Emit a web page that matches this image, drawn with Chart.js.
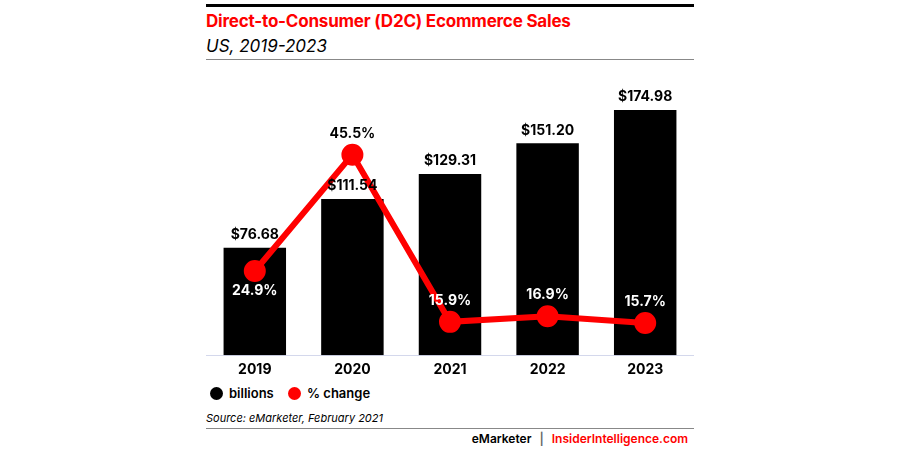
<!DOCTYPE html>
<html>
<head>
<meta charset="utf-8">
<script src="https://cdn.jsdelivr.net/npm/chart.js@4"></script>
<style>
  body { margin: 0; background: #fff; font-family: Inter, "Noto Sans", sans-serif; }
  .wrap { position: relative; width: 900px; height: 449px; }
  .topline { position: absolute; left: 206px; top: 4px; width: 488px; height: 3px; background: #000; }
  .title { position: absolute; left: 206px; top: 11px; font-size: 17px; font-weight: 700; color: #f00; letter-spacing: -0.2px; }
  .sub { position: absolute; left: 206px; top: 36px; font-size: 17px; font-style: italic; color: #000; }
  .rule1 { position: absolute; left: 206px; top: 59px; width: 488px; height: 1px; background: #888; }
  .chartbox { position: absolute; left: 206px; top: 62px; width: 488px; height: 322px; }
  .legend { position: absolute; top: 385px; font-size: 13px; font-weight: 600; display: flex; align-items: center; }
  .dot { width: 13px; height: 13px; border-radius: 50%; margin-right: 6px; }
  .source { position: absolute; left: 206px; top: 411px; font-size: 11px; font-style: italic; color: #000; }
  .rule2 { position: absolute; left: 206px; top: 428px; width: 488px; height: 1px; background: #888; }
  .footer { position: absolute; right: 212px; top: 431px; font-size: 12px; font-weight: 600; }
</style>
</head>
<body>
<div class="wrap">
  <div class="topline"></div>
  <div class="title">Direct-to-Consumer (D2C) Ecommerce Sales</div>
  <div class="sub">US, 2019-2023</div>
  <div class="rule1"></div>
  <div class="chartbox"><canvas id="chart" width="488" height="322"></canvas></div>
  <div class="legend" style="left:210px"><div class="dot" style="background:#000"></div>billions</div>
  <div class="legend" style="left:288px"><div class="dot" style="background:#f00"></div>% change</div>
  <div class="source">Source: eMarketer, February 2021</div>
  <div class="rule2"></div>
  <div class="footer"><span style="color:#000">eMarketer</span> <span style="color:#666;margin:0 5px">|</span> <span style="color:#f00">InsiderIntelligence.com</span></div>
</div>
<script>
const years = ["2019", "2020", "2021", "2022", "2023"];
const billions = [76.68, 111.54, 129.31, 151.20, 174.98];
const pctChange = [24.9, 45.5, 15.9, 16.9, 15.7];
const billionLabels = ["$76.68", "$111.54", "$129.31", "$151.20", "$174.98"];
const pctLabels = ["24.9%", "45.5%", "15.9%", "16.9%", "15.7%"];

// labels drawn on top of bars and points
const labelPlugin = {
    id: 'labels',
    afterDatasetsDraw(chart) {
        const ctx = chart.ctx;
        ctx.save();
        ctx.font = 'bold 14px Inter, "Noto Sans", sans-serif';
        ctx.textAlign = 'center';
        ctx.textBaseline = 'middle';
        const barMeta = chart.getDatasetMeta(1);
        barMeta.data.forEach(function(bar, i) {
            ctx.fillStyle = '#000';
            ctx.fillText(billionLabels[i], bar.x, bar.y - 13);
        });
        const lineMeta = chart.getDatasetMeta(0);
        lineMeta.data.forEach(function(pt, i) {
            if (i === 0) {
                ctx.fillStyle = '#fff';
                ctx.fillText(pctLabels[i], pt.x, pt.y + 20);
            } else if (i === 1) {
                ctx.fillStyle = '#000';
                ctx.fillText(pctLabels[i], pt.x, pt.y - 21);
            } else {
                ctx.fillStyle = '#fff';
                ctx.fillText(pctLabels[i], pt.x, pt.y - 21);
            }
        });
        ctx.restore();
    }
};

const ctx = document.getElementById('chart').getContext('2d');
const chart = new Chart(ctx, {
    data: {
        labels: years,
        datasets: [
            {
                type: 'line',
                label: '% change',
                data: pctChange,
                yAxisID: 'y2',
                borderColor: '#f00',
                backgroundColor: '#f00',
                borderWidth: 6,
                pointRadius: 8,
                pointHoverRadius: 8,
                tension: 0,
                order: 0
            },
            {
                type: 'bar',
                label: 'billions',
                data: billions,
                yAxisID: 'y',
                backgroundColor: '#000',
                categoryPercentage: 1,
                barPercentage: 0.64,
                order: 1
            }
        ]
    },
    options: {
        responsive: false,
        animation: false,
        layout: { autoPadding: false, padding: { top: 13, left: 0, right: 0, bottom: 0 } },
        plugins: { legend: { display: false }, tooltip: { enabled: false } },
        scales: {
            x: {
                grid: { display: false, drawTicks: false },
                border: { color: '#d4d8ec', width: 1 },
                ticks: { color: '#000', font: { size: 14, weight: 'bold', family: 'Inter' }, padding: 6 }
            },
            y: { display: false, min: 0, max: 200 },
            y2: { display: false, min: 10, max: 59.6 }
        }
    },
    plugins: [labelPlugin]
});
</script>
</body>
</html>
